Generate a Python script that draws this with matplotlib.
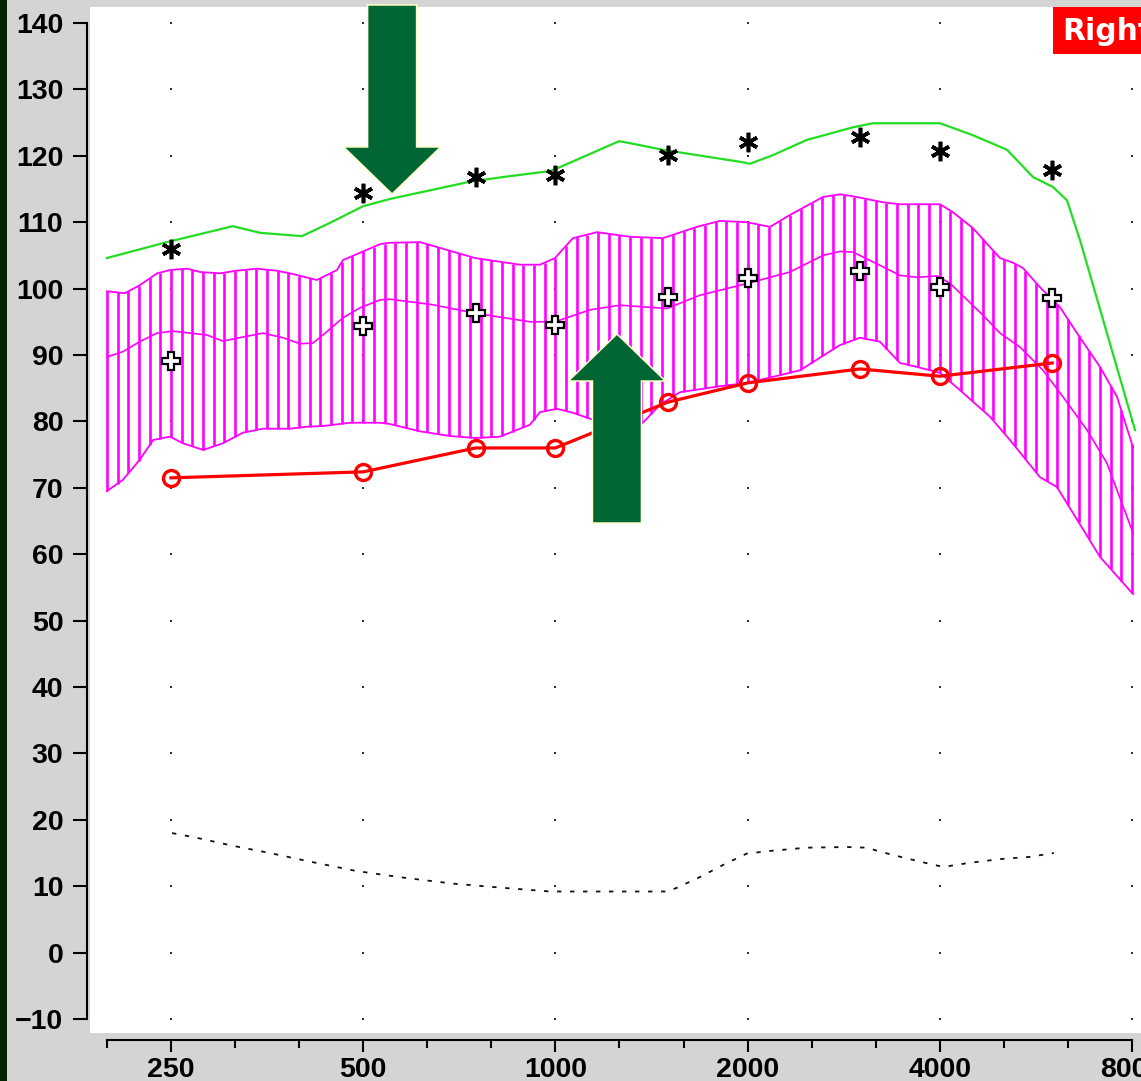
import numpy as np
import matplotlib
matplotlib.use("Agg")
import matplotlib.pyplot as plt
from matplotlib.patches import Polygon, Rectangle
from matplotlib.transforms import IdentityTransform
from matplotlib.ticker import FixedLocator, FixedFormatter, NullFormatter
from matplotlib.font_manager import FontProperties

# ---- audiometric frequencies and measured levels (dB) ----
freqs = [250, 500, 750, 1000, 1500, 2000, 3000, 4000, 6000]
ucl_db = [106.0, 114.4, 116.8, 117.1, 120.1, 122.1, 122.8, 120.7, 117.9]
target_db = [89.1, 94.4, 96.3, 94.5, 98.7, 101.6, 102.7, 100.2, 98.6]
measured_db = [71.5, 72.4, 76.0, 76.0, 82.9, 85.8, 87.9, 86.8, 88.8]

# ---- maximum output curve ----
mpo_hz = [198.4, 246.4, 312.5, 344.7, 400.9, 443.6, 499.6, 550.8, 735, 827.7,
          980, 1017, 1258, 1309, 1474, 1667, 1946, 2017, 2192, 2477, 2568,
          2925, 3143, 4003, 4508, 5098, 5599, 6016, 6328, 6632, 8088]
mpo_db = [104.6, 107.0, 109.4, 108.4, 107.9, 109.9, 112.4, 113.5, 116.1, 116.8,
          117.7, 118.3, 122.2, 121.9, 120.9, 120.1, 119.1, 118.8, 120.1, 122.4,
          122.8, 124.3, 124.9, 124.9, 123.1, 120.9, 116.8, 115.3, 113.3, 107.3,
          78.7]

# ---- speech range: upper edge, mean, lower edge ----
upper_hz = [198.4, 211.7, 223.3, 237.8, 249.1, 264.9, 277.7, 298.2, 317.0, 340.8,
            365.5, 383.9, 423.2, 455.0, 464.9, 489.0, 531.3, 550.8, 613.7, 748.5,
            880.1, 946.0, 998.6, 1065.5, 1161.9, 1308.6, 1473.9, 1666.2, 1810.4,
            1995.7, 2168.6, 2330.9, 2625.2, 2791.2, 2925.3, 3258.7, 3464.7,
            4002.8, 4195.0, 4508.3, 4969.5, 5208.0, 5399.0, 5741.0, 6170.5,
            6560.4, 7127.7, 7578.4, 8028.9]
upper_db = [99.6, 99.3, 100.5, 102.3, 102.8, 103.0, 102.5, 102.3, 102.7, 103.0,
            102.7, 102.3, 101.3, 102.8, 104.3, 105.2, 106.7, 106.9, 107.0, 104.6,
            103.6, 103.6, 104.6, 107.6, 108.5, 107.8, 107.6, 109.3, 110.2,
            110.0, 109.3, 111.1, 113.8, 114.2, 113.9, 113.0, 112.7,
            112.7, 111.5, 109.1, 104.6, 103.9, 103.1, 100.2, 97.2,
            93.3, 88.2, 83.7, 76.1]

mean_hz = [198.4, 210.2, 223.3, 237.8, 251.8, 267.8, 284.8, 301.4, 324.0, 348.2,
           374.4, 398.0, 417.1, 432.4, 464.9, 494.3, 531.3, 550.8, 640, 748.5,
           912.4, 998.6, 1132.9, 1262.3, 1495.3, 1684.3, 2002.9, 2330, 2625,
           2791, 2925, 3224, 3465, 3684, 3960, 4150, 4674, 4969, 5341, 5803,
           6238, 6801, 7310, 8029]
mean_db = [89.7, 90.5, 92.0, 93.3, 93.6, 93.3, 93.0, 92.1, 92.7, 93.3,
           92.6, 91.7, 91.8, 93.0, 95.6, 97.1, 98.3, 98.4, 97.6, 96.3,
           95.0, 95.0, 96.8, 97.5, 97.0, 99.0, 100.8, 102.5, 105.0,
           105.6, 105.5, 103.5, 102.0, 101.7, 101.9, 100.8, 96.0, 93.3, 91.2, 87.7,
           83.7, 78.7, 73.7, 63.2]

lower_hz = [198.4, 210.2, 223.3, 234.4, 249.1, 261.1, 280.7, 301.4, 324.0, 348.2,
            383.9, 408.2, 432.4, 476.8, 531.3, 550.8, 613.7, 684.0, 748.5, 818.8,
            912.4, 946.0, 1005.8, 1065.5, 1132.9, 1217.6, 1371.4, 1458.1, 1567.1,
            1810.4, 2002.9, 2416.4, 2791.2, 2999.5, 3223.6, 3464.7, 3683.8,
            4002.8, 4302.2, 4793.5, 5152.0, 5741.0, 6104.0, 6466.5, 7127.7, 8028.9]
lower_db = [69.5, 71.2, 74.2, 77.2, 77.7, 76.7, 75.7, 76.7, 78.3, 78.9,
            78.9, 79.2, 79.3, 79.8, 79.8, 79.6, 78.5, 77.8, 77.5, 77.7,
            79.5, 81.4, 81.9, 81.3, 80.4, 79.5, 79.8, 82.5, 84.4,
            85.3, 85.8, 87.7, 91.5, 92.6, 92.0, 88.8, 88.2,
            87.3, 84.7, 80.7, 77.2, 71.6, 70.1, 66.2, 59.6, 54.0]

# ---- threshold curve ----
thr_hz = [251, 274, 312, 357, 408, 487, 577, 689, 817, 981, 1248, 1497, 1553,
          1686, 1831, 1993, 2164, 2474, 2864, 3077, 3225, 3511, 3879, 4053, 4437,
          4999, 5515, 6036]
thr_db = [18.0, 17.3, 16.1, 15.0, 13.8, 12.3, 11.3, 10.4, 9.8, 9.2, 9.2, 9.2, 9.8,
          11.4, 13.2, 14.9, 15.3, 15.8, 15.9, 15.8, 15.2, 14.3, 13.3, 12.9, 13.5,
          14.1, 14.4, 15.0]

# ---- axis ticks ----
octave_hz = [250, 500, 1000, 2000, 4000, 8000]
octave_labels = ["250", "500", "1000", "2000", "4000", "8000"]
db_ticks = list(range(-10, 141, 10))
db_labels = [str(v).replace("-", "\u2212") for v in db_ticks]

W, H = 1141, 1081
GREY = "#d4d4d4"
MAGENTA = "#ff00ff"

fig = plt.figure(figsize=(W / 100, H / 100), dpi=100, facecolor=GREY)


def fx(px):
    return px / W


def fy(py):
    return 1 - py / H


ax = fig.add_axes([fx(90), fy(1033), fx(1141) - fx(90), fy(7) - fy(1033)])
ax.set_facecolor("white")
ax.set_xscale("log", base=2)
ax.set_xlim(186.7, 8264)
ax.set_ylim(-12.11, 142.41)

# axis spines sit just outside the white plotting field
for s in ("top", "right"):
    ax.spines[s].set_visible(False)
ax.spines["left"].set_position(("outward", 2.2))
ax.spines["bottom"].set_position(("outward", 5.0))
ax.spines["left"].set_bounds(-10, 140)
ax.spines["bottom"].set_bounds(250 * 2 ** (-1 / 3), 8000)
for s in ("left", "bottom"):
    ax.spines[s].set_linewidth(1.5)

tick_fp = FontProperties(family="Liberation Sans", weight="bold", size=20.5)
ax.yaxis.set_major_locator(FixedLocator(db_ticks))
ax.yaxis.set_major_formatter(FixedFormatter(db_labels))
ax.tick_params(axis="y", length=10, width=1.5, pad=7.0, direction="out")

ax.xaxis.set_major_locator(FixedLocator(octave_hz))
ax.xaxis.set_major_formatter(FixedFormatter(octave_labels))
third_oct = [250 * 2 ** (k / 3) for k in range(-1, 16) if k % 3 != 0]
ax.xaxis.set_minor_locator(FixedLocator(third_oct))
ax.xaxis.set_minor_formatter(NullFormatter())
ax.tick_params(axis="x", which="major", length=8.6, width=1.5, pad=3.5)
ax.tick_params(axis="x", which="minor", length=5.8, width=1.5)
for lbl in ax.get_xticklabels() + ax.get_yticklabels():
    lbl.set_fontproperties(tick_fp)

# dotted reference grid at each octave / 10 dB
gx, gy = np.meshgrid(octave_hz, db_ticks)
ax.scatter(gx.ravel(), gy.ravel(), s=1.8, marker="s", color="#303030",
           linewidths=0, zorder=1)

# speech range band with vertical hatching every 1/18 octave
lx = np.log2(lower_hz)
ux = np.log2(upper_hz)
hatch_hz = np.array([250 * 2 ** (k / 18) for k in range(-6, 91)])
hl = np.log2(hatch_hz)
h_lo = np.interp(hl, lx, lower_db)
h_hi = np.interp(hl, ux, upper_db)
ax.vlines(hatch_hz, h_lo, h_hi, color=MAGENTA, lw=1.9, zorder=2)
ax.plot(upper_hz, upper_db, color=MAGENTA, lw=1.3, zorder=2)
ax.plot(lower_hz, lower_db, color=MAGENTA, lw=1.3, zorder=2)
ax.plot(mean_hz, mean_db, color=MAGENTA, lw=1.2, zorder=2)

# maximum output
ax.plot(mpo_hz, mpo_db, color="#22dd22", lw=1.6, zorder=3)

# threshold
ax.plot(thr_hz, thr_db, color="#111111", lw=1.3, linestyle=(0, (2.4, 4.8)),
        zorder=3)

# measured output
ax.plot(freqs, measured_db, color="#ff0000", lw=2.3, marker="o", ms=11.5,
        mfc="none", mec="#ff0000", mew=2.4, zorder=4)

# targets and discomfort levels
ax.plot(freqs, target_db, linestyle="none", marker="P", ms=13, mfc="white",
        mec="black", mew=1.6, zorder=5)
ax.plot(freqs, ucl_db, linestyle="none", marker=(6, 2, 0), ms=14, mec="black",
        mew=2.6, zorder=5)

# frame strip
fig.add_artist(Rectangle((0, 0), fx(7), 1, transform=fig.transFigure,
                         facecolor="#002400", edgecolor="none", zorder=0))

# ear indicator
fig.add_artist(Rectangle((fx(1053), fy(54)), fx(100), fy(7) - fy(54),
                         transform=fig.transFigure, facecolor="#ff0000",
                         edgecolor="none", zorder=10))
fig.text(fx(1062), fy(40), "Right", color="white", fontsize=21.5,
         family="DejaVu Sans", weight="bold", va="baseline", ha="left",
         zorder=11)

# pointer arrows, anchored at their tips in data space
fig.canvas.draw()
shape = np.array([[0, 0], [-48.5, 47], [-24.5, 47], [-24.5, 189],
                  [24.5, 189], [24.5, 47], [48.5, 47]])
for (hz, db), sign in (((555.0, 114.25), 1), ((1248.6, 93.16), -1)):
    tip = ax.transData.transform((hz, db))
    verts = tip + shape * np.array([1, sign])
    fig.add_artist(Polygon(verts, closed=True, transform=IdentityTransform(),
                           facecolor="#006633", edgecolor="#ffffc8", lw=1.1,
                           zorder=12))

fig.savefig("out.png", dpi=100, facecolor=GREY)
